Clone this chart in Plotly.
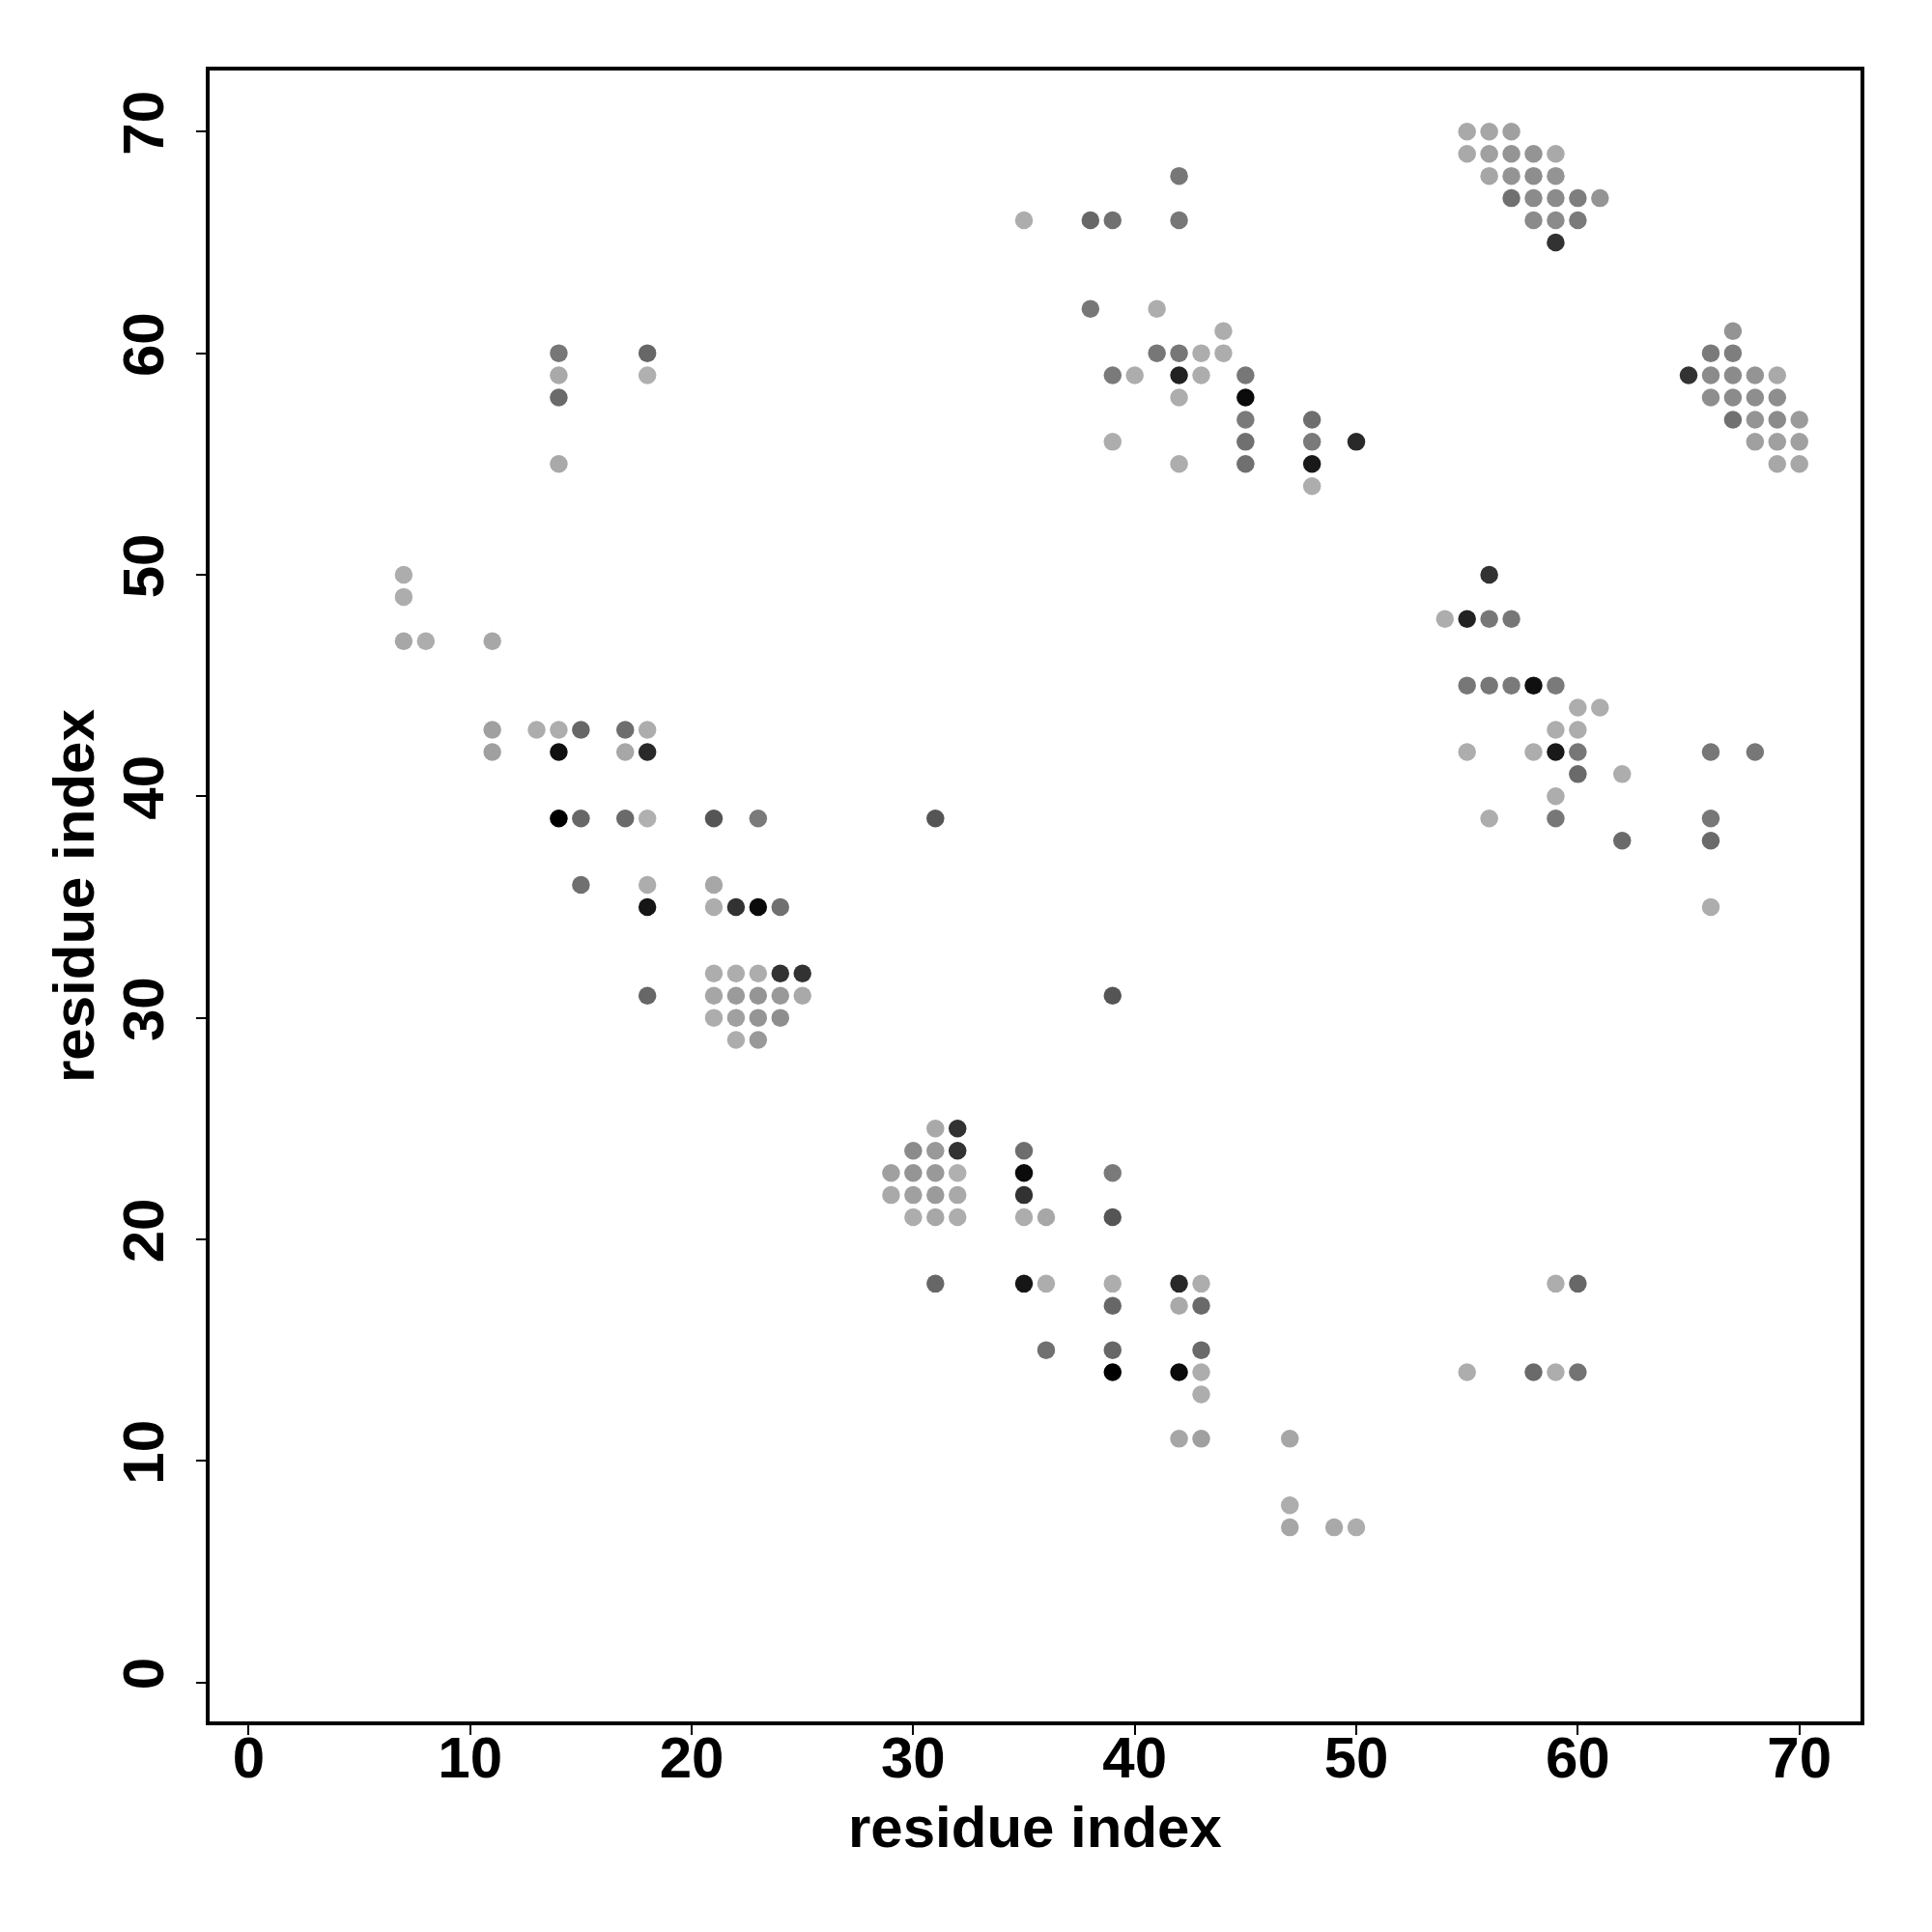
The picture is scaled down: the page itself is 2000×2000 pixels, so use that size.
import plotly.graph_objects as go

# contact map: residue i (x), residue j (y), contact probability (darker = higher)
residue_i = [
    14, 14, 14, 14, 18, 18, 7, 7, 7, 8, 11,
    11, 13, 14, 15, 17, 18, 11, 14, 17, 18,
    14, 15, 17, 18, 21, 23, 15, 18, 21,
    18, 21, 22, 23, 24, 21, 22, 23, 24, 25,
    18, 21, 22, 23, 24, 25, 21, 22, 23, 24, 22, 23,
    31, 39,
    31, 32, 30, 31, 32, 35, 29, 30, 31, 32, 35, 39,
    29, 30, 31, 32, 35, 30, 31, 32, 35, 36, 39,
    31, 35, 36, 39, 42, 43, 39, 42, 43, 36, 39, 43,
    39, 42, 43, 43, 42, 43, 47, 47, 47, 49, 50,
    42, 35, 38, 39, 42, 38, 41, 44, 41, 42, 43, 44,
    39, 40, 42, 43, 45, 42, 45, 45, 48, 39, 45, 48, 50,
    42, 45, 48, 48,
    55, 56, 57, 55, 56, 57, 58, 59, 56, 57, 58, 59,
    57, 58, 59, 60, 61, 58, 59, 60, 59,
    67, 66, 67, 65, 66, 67, 68, 69, 66, 67, 68, 69,
    67, 68, 69, 70, 68, 69, 70, 69, 70,
    56, 54, 55, 56, 57, 55, 56, 57, 58, 59, 60, 61, 59, 60,
    55, 58, 59, 60, 66, 68, 60, 62, 59, 56, 59, 66, 62, 66, 66,
    59, 60, 55, 58, 59, 60,
]
residue_j = [
    60, 59, 58, 55, 60, 59, 50, 49, 47, 47, 47,
    43, 43, 43, 43, 43, 43, 42, 42, 42, 42,
    39, 39, 39, 39, 39, 39, 36, 36, 36,
    35, 35, 35, 35, 35, 32, 32, 32, 32, 32,
    31, 31, 31, 31, 31, 31, 30, 30, 30, 30, 29, 29,
    39, 31,
    25, 25, 24, 24, 24, 24, 23, 23, 23, 23, 23, 23,
    22, 22, 22, 22, 22, 21, 21, 21, 21, 21, 21,
    18, 18, 18, 18, 18, 18, 17, 17, 17, 15, 15, 15,
    14, 14, 14, 13, 11, 11, 11, 8, 7, 7, 7,
    68, 66, 66, 66, 66, 62, 62, 61, 60, 60, 60, 60,
    59, 59, 59, 59, 59, 58, 58, 57, 57, 56, 56, 56, 56,
    55, 55, 55, 54,
    70, 70, 70, 69, 69, 69, 69, 69, 68, 68, 68, 68,
    67, 67, 67, 67, 67, 66, 66, 66, 65,
    61, 60, 60, 59, 59, 59, 59, 59, 58, 58, 58, 58,
    57, 57, 57, 57, 56, 56, 56, 55, 55,
    50, 48, 48, 48, 48, 45, 45, 45, 45, 45, 44, 44, 43, 43,
    42, 42, 42, 42, 42, 42, 41, 41, 40, 39, 39, 39, 38, 38, 35,
    18, 18, 14, 14, 14, 14,
]
contact_prob = [
    0.34, 0.06, 0.41, 0.06, 0.43, 0.02, 0.04, 0.04, 0.07, 0.04, 0.07,
    0.11, 0.04, 0.04, 0.43, 0.39, 0.04, 0.11, 0.91, 0.07, 0.77,
    1.00, 0.43, 0.41, 0.02, 0.53, 0.32, 0.38, 0.04, 0.07,
    0.88, 0.04, 0.72, 0.94, 0.38, 0.04, 0.04, 0.04, 0.72, 0.72,
    0.43, 0.08, 0.14, 0.17, 0.15, 0.06, 0.04, 0.11, 0.17, 0.21, 0.04, 0.15,
    0.53, 0.53,
    0.06, 0.72, 0.23, 0.15, 0.72, 0.39, 0.11, 0.17, 0.15, 0.02, 0.94, 0.32,
    0.06, 0.11, 0.14, 0.06, 0.72, 0.04, 0.07, 0.04, 0.04, 0.07, 0.53,
    0.43, 0.88, 0.04, 0.04, 0.77, 0.04, 0.43, 0.06, 0.41, 0.38, 0.43, 0.41,
    1.00, 0.94, 0.04, 0.04, 0.08, 0.11, 0.08, 0.04, 0.08, 0.06, 0.04,
    0.34, 0.04, 0.43, 0.38, 0.34, 0.34, 0.04, 0.04, 0.34, 0.34, 0.04, 0.04,
    0.32, 0.04, 0.81, 0.04, 0.34, 0.04, 0.94, 0.32, 0.39, 0.04, 0.38, 0.32, 0.77,
    0.04, 0.38, 0.86, 0.04,
    0.06, 0.08, 0.11, 0.06, 0.11, 0.18, 0.18, 0.06, 0.08, 0.18, 0.21, 0.18,
    0.38, 0.23, 0.23, 0.30, 0.18, 0.23, 0.23, 0.32, 0.72,
    0.18, 0.32, 0.30, 0.72, 0.23, 0.23, 0.18, 0.06, 0.21, 0.23, 0.21, 0.21,
    0.38, 0.18, 0.23, 0.14, 0.11, 0.11, 0.11, 0.07, 0.07,
    0.72, 0.04, 0.81, 0.34, 0.34, 0.34, 0.34, 0.32, 0.91, 0.32, 0.04, 0.04, 0.04, 0.04,
    0.04, 0.04, 0.86, 0.34, 0.34, 0.34, 0.41, 0.04, 0.04, 0.04, 0.34, 0.34, 0.41, 0.41, 0.04,
    0.04, 0.43, 0.04, 0.41, 0.04, 0.36,
]
tick_values = [0, 10, 20, 30, 40, 50, 60, 70]
axis_title = "residue index"

font_family = "Liberation Sans, Arial, Helvetica, sans-serif"

fig = go.Figure(
    go.Scatter(
        x=residue_i,
        y=residue_j,
        mode="markers",
        marker=dict(
            size=18.5,
            color=contact_prob,
            colorscale=[[0, "rgb(180,180,180)"], [1, "rgb(0,0,0)"]],
            cmin=0,
            cmax=1,
            line=dict(width=0),
        ),
        showlegend=False,
        hoverinfo="x+y",
    )
)

axis_common = dict(
    range=[-1.76, 72.76],
    tickvals=tick_values,
    ticktext=[str(t) for t in tick_values],
    ticks="outside",
    ticklen=10,
    tickwidth=2,
    tickcolor="black",
    showline=True,
    mirror=True,
    linewidth=4,
    linecolor="black",
    showgrid=False,
    zeroline=False,
    tickfont=dict(family=font_family, size=60, color="black", weight="bold"),
)

fig.update_layout(
    width=2000,
    height=2000,
    margin=dict(l=209, r=82, t=65, b=226),
    paper_bgcolor="white",
    plot_bgcolor="white",
    xaxis=dict(**axis_common, ticklabelstandoff=-28),
    yaxis=dict(**axis_common, tickangle=-90, ticklabelstandoff=10),
    annotations=[
        dict(
            text=axis_title, xref="paper", yref="paper", x=0.5, y=-0.0638,
            showarrow=False, xanchor="center", yanchor="middle",
            font=dict(family=font_family, size=60, color="black", weight="bold"),
        ),
        dict(
            text=axis_title, xref="paper", yref="paper", x=-0.0822, y=0.5,
            showarrow=False, xanchor="center", yanchor="middle", textangle=-90,
            font=dict(family=font_family, size=60, color="black", weight="bold"),
        ),
    ],
)

fig.write_html("out.html")
